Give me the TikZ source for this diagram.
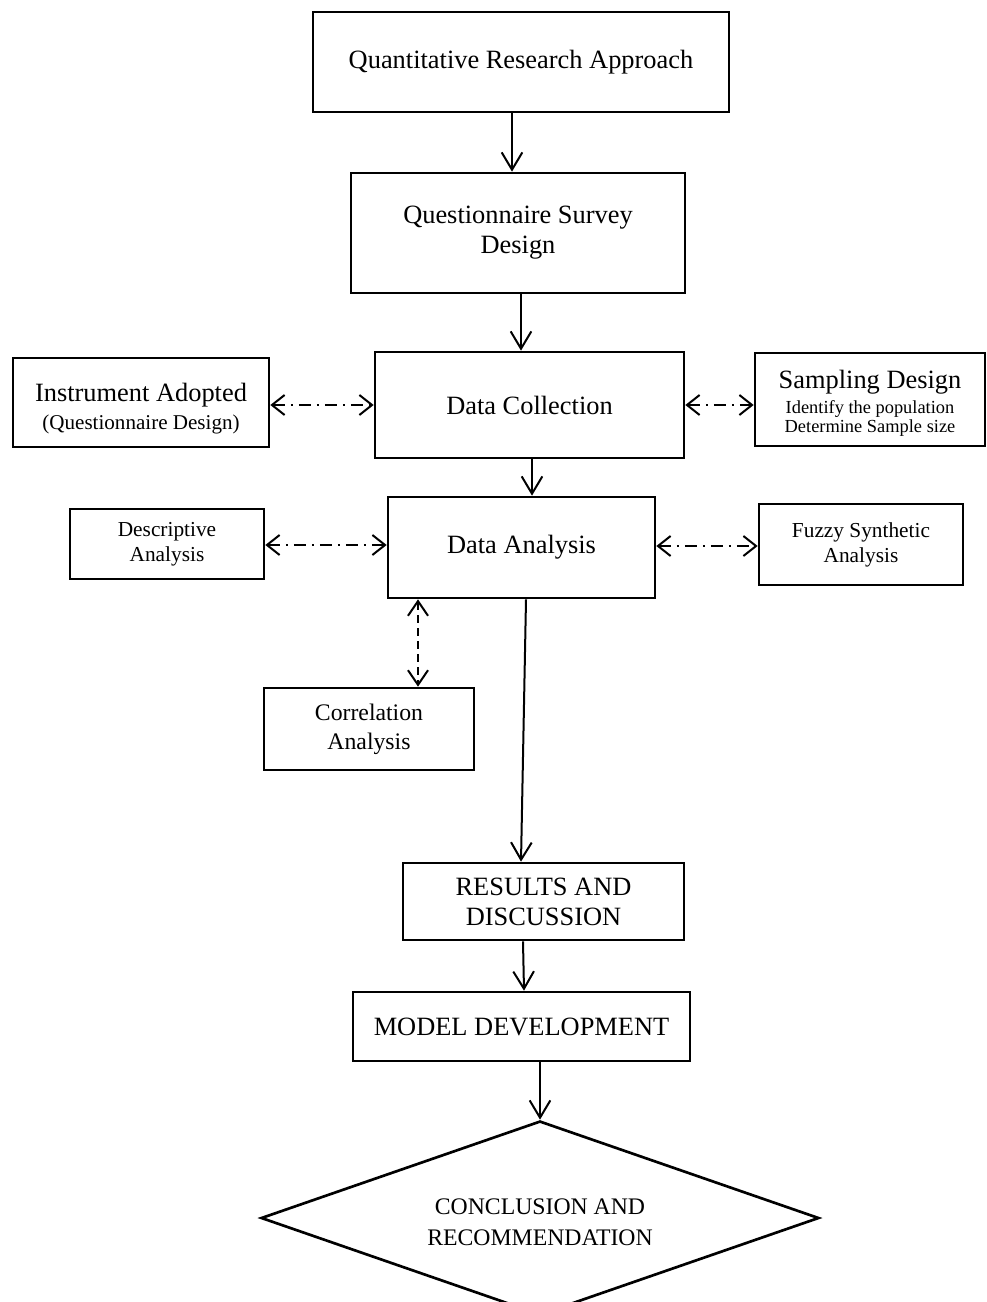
\documentclass[tikz,border=0pt]{standalone}
\usepackage{fontspec}
\setmainfont{Liberation Serif}
\usetikzlibrary{arrows.meta,shapes.geometric}
\begin{document}
\begin{tikzpicture}[x=0.75pt,y=-0.75pt,
 box/.style={draw,rectangle,line width=2pt,inner sep=0pt,align=center},
 big/.style={font=\fontsize{19.8}{22.5}\selectfont},
 mid/.style={font=\fontsize{16}{18.75}\selectfont},
 arr/.style={line width=1.5pt,-{Straight Barb[length=13pt,width=15.5pt,line width=1.5pt]}},
 dd/.style={line width=1.5pt,{Straight Barb[length=9.5pt,width=15pt,line width=1.5pt]}-{Straight Barb[length=9.5pt,width=15pt,line width=1.5pt]},dash pattern=on 9pt off 4.5pt on 1.5pt off 4.5pt},
 vd/.style={line width=1.5pt,{Straight Barb[length=11pt,width=15pt,line width=1.5pt]}-{Straight Barb[length=11pt,width=15pt,line width=1.5pt]},dash pattern=on 6pt off 3.75pt}
]
\useasboundingbox (0,0) rectangle (987,1302);

\node[box,big,minimum width=312pt,minimum height=75pt] (qra) at (521,62) {Quantitative Research Approach};
\node[box,big,minimum width=250.5pt,minimum height=90pt] (qsd) at (518,233) {Questionnaire Survey\\Design};
\node[box,big,minimum width=231.75pt,minimum height=79.5pt] (dc) at (529.5,405) {Data Collection};
\node[box,minimum width=192pt,minimum height=66.75pt] (ia) at (141,402.5) {\fontsize{19.8}{22.5}\selectfont\rule{0pt}{23pt}Instrument Adopted\\[4.5pt]\fontsize{15.8}{19}\selectfont (Questionnaire Design)};
\node[box,minimum width=172.5pt,minimum height=69.75pt] (sd) at (870,399.5) {\fontsize{19.8}{20}\selectfont\rule{0pt}{20pt}Sampling Design\\[3.5pt]\fontsize{13.8}{15}\selectfont Identify the population\\[1pt]\fontsize{13.8}{15}\selectfont Determine Sample size};
\node[box,big,minimum width=200.25pt,minimum height=75.75pt] (da) at (521.5,547.5) {Data Analysis};
\node[box,mid,minimum width=145.5pt,minimum height=52.5pt] (desc) at (167,544) {Descriptive\\Analysis};
\node[box,mid,minimum width=153pt,minimum height=60.75pt] (fsa) at (861,544.5) {Fuzzy Synthetic\\Analysis};
\node[box,font=\fontsize{17.8}{21.75}\selectfont,minimum width=157.5pt,minimum height=61.5pt] (corr) at (369,729) {Correlation\\Analysis};
\node[box,big,minimum width=210.75pt,minimum height=57.75pt] (res) at (543.5,901.5) {RESULTS AND\\DISCUSSION};
\node[box,big,minimum width=252.75pt,minimum height=51.75pt] (mod) at (521.5,1026.5) {MODEL DEVELOPMENT};
\node[draw,diamond,aspect=2.876,line width=2pt,inner sep=0pt,align=center,minimum width=418.5pt,minimum height=145.5pt,font=\fontsize{17.8}{23}\selectfont] (con) at (540,1218) {\rule{0pt}{18pt}CONCLUSION AND\\RECOMMENDATION};

\draw[arr] (qra.south -| 512,0) -- (qsd.north -| 512,0);
\draw[arr] (qsd.south -| 521,0) -- (dc.north -| 521,0);
\draw[arr] (dc.south -| 532,0) -- (da.north -| 532,0);
\draw[arr] (da.south -| 526,0) -- (res.north -| 521,0);
\draw[arr] (res.south -| 523,0) -- (mod.north -| 524,0);
\draw[arr] (mod.south -| 540,0) -- (con.north);

\draw[dd] (ia.east |- 0,405) -- (dc.west |- 0,405);
\draw[dd] (dc.east |- 0,405) -- (sd.west |- 0,405);
\draw[dd] (desc.east |- 0,545) -- (da.west |- 0,545);
\draw[dd] (da.east |- 0,546) -- (fsa.west |- 0,546);
\draw[vd] (da.south -| 418,0) -- (corr.north -| 418,0);
\end{tikzpicture}
\end{document}
